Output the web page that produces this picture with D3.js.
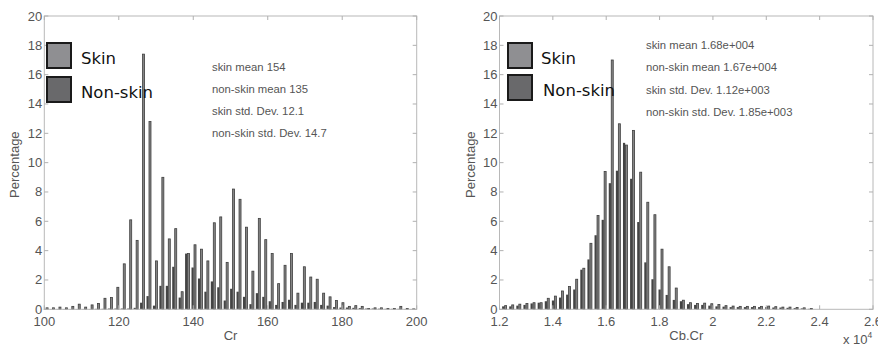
<!DOCTYPE html>
<html>
<head>
<meta charset="utf-8">
<script src="https://cdn.jsdelivr.net/npm/d3@7"></script>
<style>
  body { margin: 0; background: #fff; }
  svg { display: block; }
</style>
</head>
<body>
<svg id="chart" width="878" height="347"></svg>
<script>
// Cr histogram (percent per bin)
const crSkin = [0.1,0.1,0.15,0.1,0.2,0.35,0.15,0.3,0.4,0.75,
  0.8,1.5,3.1,6.1,4.7,17.4,12.8,3.3,9.0,4.8,
  5.5,1.2,3.8,4.4,4.1,3.3,5.9,6.3,3.2,8.2,
  7.5,5.6,2.6,6.2,4.75,3.8,1.75,3.0,3.8,1.1,
  2.9,2.2,2.05,1.1,0.85,0.6,0.45,0.2,0.25,0.2,
  0.05,0.1,0.1,0.05,0.05,0.2,0.05,0.03];
const crNonSkin = [0.02,0.02,0.02,0.02,0.02,0.02,0.02,0.02,0.03,0.03,
  0.05,0.05,0.05,0.05,0.1,0.45,0.9,0.25,1.6,1.6,
  2.9,0.8,3.8,2.85,2.1,1.2,1.9,1.5,0.6,1.4,
  1.2,0.85,0.35,1.1,0.85,0.55,0.3,0.5,0.65,0.3,
  0.45,0.45,0.5,0.3,0.25,0.15,0.12,0.12,0.1,0.08,
  0.05,0.05,0.04,0.03,0.03,0.03,0.02,0.02];

// Cb.Cr histogram (x in units of 1e4)
const cbcrSkin = [0.25,0.3,0.35,0.4,0.45,0.45,0.75,0.9,1.25,1.55,
  2.05,2.8,4.5,6.4,9.4,17.0,12.65,11.2,12.2,9.35,
  7.3,6.45,4.1,2.9,1.45,0.62,0.45,0.4,0.42,0.38,
  0.33,0.25,0.22,0.2,0.2,0.2,0.2,0.22,0.18,0.15,
  0.15,0.12,0.1,0.05];
const cbcrNonSkin = [0.2,0.2,0.25,0.3,0.4,0.45,0.55,0.6,0.8,1.0,
  1.35,2.7,3.4,5.05,6.1,8.6,9.45,11.35,8.9,5.95,
  3.2,2.05,1.35,0.98,0.64,0.55,0.35,0.3,0.3,0.25,
  0.2,0.18,0.15,0.15,0.15,0.15,0.15,0.15,0.12,0.12,
  0.1,0.08,0.06,0.03];

const legendLabels = ["Skin", "Non-skin"];
const crStats = ["skin mean 154", "non-skin mean 135", "skin std. Dev. 12.1", "non-skin std. Dev. 14.7"];
const cbcrStats = ["skin mean 1.68e+004", "non-skin mean 1.67e+004", "skin std. Dev. 1.12e+003", "non-skin std. Dev. 1.85e+003"];
const yTicks = [0, 2, 4, 6, 8, 10, 12, 14, 16, 18, 20];
const crTicks = [100, 120, 140, 160, 180, 200];
const cbcrTicks = [1.2, 1.4, 1.6, 1.8, 2, 2.2, 2.4, 2.6];

const svg = d3.select("#chart");
const tickFont = "Liberation Sans, Arial, sans-serif";

function drawPanel(p) {
  const x = d3.scaleLinear().domain(p.xDomain).range([p.left, p.right]);
  const y = d3.scaleLinear().domain([0, 20]).range([p.bottom, p.top]);
  const g = svg.append("g");

  // bars: non-skin (dark) left of bin centre, skin (outlined) right
  const centers = p.skin.map((d, i) => p.binStart + i * p.binWidth);
  g.selectAll("rect.ns").data(p.nonSkin).enter().append("rect")
    .attr("class", "ns")
    .attr("x", (d, i) => x(centers[i]) - 2.2)
    .attr("width", 2.2)
    .attr("y", d => y(d))
    .attr("height", d => y(0) - y(d))
    .attr("fill", "#444");
  g.selectAll("rect.sk").data(p.skin).enter().append("rect")
    .attr("class", "sk")
    .attr("x", (d, i) => x(centers[i]) + 0.3)
    .attr("width", 2)
    .attr("y", d => y(d))
    .attr("height", d => y(0) - y(d))
    .attr("fill", "#858585")
    .attr("stroke", "#3e3e3e")
    .attr("stroke-width", 0.8);

  // frame
  g.append("rect")
    .attr("x", p.left).attr("y", p.top)
    .attr("width", p.right - p.left).attr("height", p.bottom - p.top)
    .attr("fill", "none").attr("stroke", "#b8b8b8").attr("stroke-width", 1);

  // inward ticks on all sides
  const tl = 4;
  p.xTicks.forEach(v => {
    g.append("line").attr("x1", x(v)).attr("x2", x(v)).attr("y1", p.bottom).attr("y2", p.bottom - tl)
      .attr("stroke", "#b0b0b0");
    g.append("line").attr("x1", x(v)).attr("x2", x(v)).attr("y1", p.top).attr("y2", p.top + tl)
      .attr("stroke", "#b0b0b0");
    g.append("text").attr("x", x(v)).attr("y", p.bottom + 17)
      .attr("text-anchor", "middle").attr("font-family", tickFont).attr("font-size", 13)
      .attr("fill", "#555").text(p.xFmt(v));
  });
  yTicks.forEach(v => {
    g.append("line").attr("x1", p.left).attr("x2", p.left + tl).attr("y1", y(v)).attr("y2", y(v))
      .attr("stroke", "#b0b0b0");
    g.append("line").attr("x1", p.right).attr("x2", p.right - tl).attr("y1", y(v)).attr("y2", y(v))
      .attr("stroke", "#b0b0b0");
    g.append("text").attr("x", p.left - 2).attr("y", y(v) + 4.5)
      .attr("text-anchor", "end").attr("font-family", tickFont).attr("font-size", 13)
      .attr("fill", "#555").text(v);
  });

  // axis labels
  g.append("text").attr("x", (p.left + p.right) / 2).attr("y", 340)
    .attr("text-anchor", "middle").attr("font-family", tickFont).attr("font-size", 13)
    .attr("fill", "#555").text(p.xLabel);
  g.append("text").attr("transform", `translate(${p.left - 25},${(p.top + p.bottom) / 2 + 2}) rotate(-90)`)
    .attr("text-anchor", "middle").attr("font-family", tickFont).attr("font-size", 13)
    .attr("fill", "#555").text("Percentage");

  // stats text
  p.stats.forEach((s, i) => {
    g.append("text").attr("x", p.statsX).attr("y", p.statsY[i])
      .attr("font-family", tickFont).attr("font-size", 11.3)
      .attr("fill", "#555").text(s);
  });

  // legend
  const boxFill = ["#8f8f92", "#69696b"];
  legendLabels.forEach((lab, i) => {
    g.append("rect").attr("x", p.legX).attr("y", p.legY[i])
      .attr("width", 24).attr("height", 25)
      .attr("fill", boxFill[i]).attr("stroke", "#1a1a1a").attr("stroke-width", 2);
    g.append("text").attr("x", p.legTextX[i]).attr("y", p.legY[i] + 21)
      .attr("font-family", "DejaVu Sans, Verdana, sans-serif").attr("font-size", 16.5)
      .attr("fill", "#111").text(lab);
  });
}

drawPanel({
  left: 44.3, right: 416.7, top: 16, bottom: 309.3,
  xDomain: [100, 200], xTicks: crTicks, xFmt: d => d, xLabel: "Cr",
  binStart: 100.4, binWidth: 1.727,
  skin: crSkin, nonSkin: crNonSkin,
  stats: crStats, statsX: 212, statsY: [71, 93, 115, 137],
  legX: 47, legY: [43, 77], legTextX: [81, 81]
});

drawPanel({
  left: 499.5, right: 873, top: 16, bottom: 309.3,
  xDomain: [1.2, 2.6], xTicks: cbcrTicks, xFmt: d => d, xLabel: "Cb.Cr",
  binStart: 1.218, binWidth: 0.02665,
  skin: cbcrSkin, nonSkin: cbcrNonSkin,
  stats: cbcrStats, statsX: 646, statsY: [48.5, 71, 93.5, 115.5],
  legX: 508, legY: [43, 75], legTextX: [541, 543]
});

// exponent label for the right axis
const ex = svg.append("text").attr("x", 843).attr("y", 344)
  .attr("font-family", tickFont).attr("font-size", 13).attr("fill", "#555");
ex.append("tspan").text("x 10");
ex.append("tspan").attr("dy", -6).attr("font-size", 8.5).text("4");
</script>
</body>
</html>
